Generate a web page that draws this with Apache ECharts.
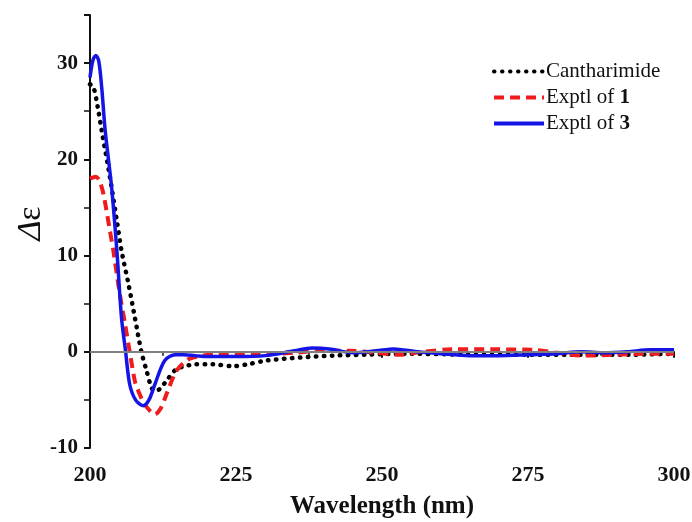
<!DOCTYPE html>
<html><head><meta charset="utf-8">
<script src="https://cdn.jsdelivr.net/npm/echarts@6/dist/echarts.min.js"></script>
<style>html,body{margin:0;padding:0;background:#fff}#c{width:692px;height:522px}</style>
</head><body><div id="c"></div>
<script>
// Cantharimide (dotted black)
const cantharWl = [200,200.6,201.3,202,203.4,204.6,205.4,206.6,207.7,208.8,209.7,210.6,211.3,212.2,213.1,214.8,216.3,218,221,224.5,227,230.3,236,241.6,247.4,255,265,275,285,293,300];
const cantharVal = [27.8,27.5,25.5,23,18.2,13.6,10.5,7,3.5,0,-2,-3.8,-4.1,-3.7,-3.0,-1.8,-1.5,-1.3,-1.3,-1.5,-1.3,-0.9,-0.6,-0.4,-0.3,-0.2,-0.3,-0.3,-0.3,-0.3,-0.2];
// Exptl of 1 (dashed red)
const exp1Wl = [200,201,201.6,202.3,203.4,204,205.1,206,206.8,207.7,208.3,209.2,210.2,211.1,212.1,213.1,214.8,216.8,218.5,222,228,235,240,244.5,249,253,257,262,270,276,280,284.4,290,295,300];
const exp1Val = [18,18.2,17.8,16.4,12.6,10.5,6,2.9,0,-3.1,-4.1,-5.3,-6.1,-6.5,-5.9,-4.4,-2,-0.8,-0.5,-0.2,-0.3,-0.1,0.1,0.1,-0.1,-0.3,0.0,0.25,0.25,0.2,-0.1,-0.4,-0.3,-0.2,-0.2];
// Exptl of 3 (solid blue)
const exp3Wl = [200,200.5,201,201.5,202,202.6,203.7,204.6,205.4,206.1,206.8,207.8,209.1,210.1,211.1,212.8,214.6,216,218,220,225,230,235,238,241,245,249,252,256,260,265,270,275,280,284,288,292,296,300];
const exp3Val = [28.5,30.3,30.8,30.2,27.5,23,17.1,10.5,3.5,0,-3.4,-5.0,-5.6,-5.0,-3.4,-0.9,-0.3,-0.3,-0.4,-0.5,-0.5,-0.4,0.1,0.4,0.3,-0.1,0.1,0.3,0.0,-0.2,-0.4,-0.4,-0.3,-0.2,0.0,-0.1,0.0,0.2,0.2];
const seriesNames = ['Cantharimide','Exptl of 1','Exptl of 3'];
const xTicks = [200,225,250,275,300];
const yTicks = [-10,0,10,20,30];

const zip = (a,b)=>a.map((x,i)=>[x,b[i]]);
const serif = 'Liberation Serif';
const colors = ['#000000','#ee1c1c','#1414e6'];
const dashes = [[0.5,7.5],[10,6],'solid'];
const chart = echarts.init(document.getElementById('c'));
chart.setOption({
  animation:false,
  grid:{left:90,right:18,top:15,bottom:74,containLabel:false,outerBoundsMode:'none'},
  legend:{
    orient:'vertical', left:487, top:56, itemGap:5, itemWidth:50, itemHeight:22,
    itemStyle:{opacity:0},
    textStyle:{fontFamily:serif,fontSize:21,color:'#111',padding:[0,0,0,-3],
      rich:{b:{fontFamily:serif,fontSize:21,fontWeight:'bold',color:'#111'}}},
    formatter:function(n){ if(n==='Exptl of 1') return 'Exptl of {b|1}'; if(n==='Exptl of 3') return 'Exptl of {b|3}'; return n; },
    data:seriesNames.map((n,i)=>({name:n,itemStyle:{opacity:0},
      lineStyle:{color:colors[i],width:4,type:dashes[i],cap:i===0?'round':'butt'}}))
  },
  xAxis:{
    type:'value', min:200, max:300, interval:25,
    name:'Wavelength (nm)', nameLocation:'middle', nameGap:46,
    nameTextStyle:{fontFamily:serif,fontSize:25,fontWeight:'bold',color:'#111'},
    axisLine:{lineStyle:{color:'#111',width:2}},
    axisTick:{length:6,lineStyle:{color:'#111',width:2}},
    minorTick:{show:true,splitNumber:2,length:4,lineStyle:{color:'#111',width:1.5}},
    splitLine:{show:false},
    axisLabel:{fontFamily:serif,fontSize:22,fontWeight:'bold',color:'#111',margin:16,
      formatter:v=>xTicks.includes(v)?String(v):''}
  },
  yAxis:{
    type:'value', min:-10, max:35, interval:10,
    name:'{i|Δ}ε', nameLocation:'middle', nameGap:42, nameRotate:90, nameMoveOverlap:false,
    nameTextStyle:{fontFamily:serif,fontSize:34,color:'#111',padding:[0,0,0,16],
      rich:{i:{fontFamily:serif,fontSize:34,fontStyle:'italic',color:'#111'}}},
    axisLine:{show:true,lineStyle:{color:'#111',width:2}},
    axisTick:{length:6,lineStyle:{color:'#111',width:2}},
    minorTick:{show:true,splitNumber:2,length:6,lineStyle:{color:'#111',width:1.5}},
    splitLine:{show:false},
    axisLabel:{fontFamily:serif,fontSize:21,fontWeight:'bold',color:'#111',margin:12,showMaxLabel:false,
      formatter:v=>yTicks.includes(v)?String(v):''}
  },
  series:[
    {name:seriesNames[0],type:'line',data:zip(cantharWl,cantharVal),smooth:0.3,symbol:'none',
     lineStyle:{color:colors[0],width:4.5,type:dashes[0],cap:'round'},itemStyle:{color:colors[0]},
     markLine:{silent:true,symbol:['none','none'],label:{show:false},
       lineStyle:{color:'#808080',width:2,type:'solid'},data:[{yAxis:0}]},z:2},
    {name:seriesNames[1],type:'line',data:zip(exp1Wl,exp1Val),smooth:0.3,symbol:'none',
     lineStyle:{color:colors[1],width:4,type:dashes[1]},itemStyle:{color:colors[1]},z:3},
    {name:seriesNames[2],type:'line',data:zip(exp3Wl,exp3Val),smooth:0.3,symbol:'none',
     lineStyle:{color:colors[2],width:3.5,type:'solid'},itemStyle:{color:colors[2]},z:4}
  ]
});
</script></body></html>
